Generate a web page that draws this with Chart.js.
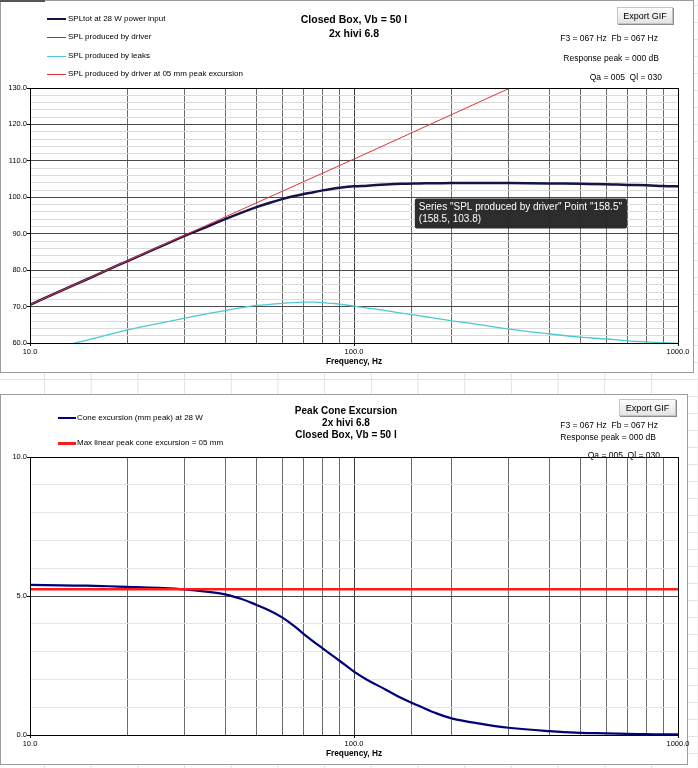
<!DOCTYPE html>
<html>
<head>
<meta charset="utf-8">
<title>Closed Box, Vb = 50 l</title>
<script src="https://cdn.jsdelivr.net/npm/chart.js@4.4.1/dist/chart.umd.min.js"></script>
<style>
    html, body {
        margin: 0;
        padding: 0;
    }
    body {
        width: 698px;
        height: 768px;
        position: relative;
        overflow: hidden;
        font-family: 'Liberation Sans', Arial, sans-serif;
        color: #000;
        background-color: #fff;
        background-image:
            linear-gradient(to right, #e2e2e2 1px, transparent 1px),
            linear-gradient(to bottom, #e2e2e2 1px, transparent 1px);
        background-size: 46.7px 100%, 100% 17px;
        background-position: 44px 0, 0 5px;
    }
    .frame {
        position: absolute;
        background: #fff;
        border: 1px solid #9c9c9c;
        box-sizing: border-box;
    }
    canvas {
        position: absolute;
    }
    .txt {
        position: absolute;
        white-space: nowrap;
        line-height: 12px;
        transform: translateY(-50%);
    }
    .legend { font-size: 8px; }
    .title { font-size: 10px; font-weight: bold; text-align: center; width: 200px; }
    .info { font-size: 8.5px; text-align: right; }
    .swatch { position: absolute; }
    .btn {
        position: absolute;
        font-size: 9px;
        line-height: 16px;
        text-align: center;
        box-sizing: border-box;
        background: linear-gradient(#fdfdfd, #e4e4e4);
        border: 1px solid #c4c4c4;
        box-shadow: 1px 1px 0 #8a8a8a;
    }
</style>
</head>
<body>

<div class="frame" style="left:0; top:0; width:694px; height:373px;"></div>
<div style="position:absolute; left:0; top:0; width:45px; height:2px; background:#555;"></div>
<div class="frame" style="left:0; top:394px; width:688px; height:371px;"></div>

<canvas id="spl-chart" width="693" height="372" style="left:0; top:0;"></canvas>
<canvas id="cone-chart" width="697" height="370" style="left:0; top:394px;"></canvas>

<!-- top chart texts -->
<div class="swatch" style="left:47px; top:18px; width:19px; height:2px; background:#14144a;"></div>
<div class="txt legend" style="left:68px; top:19px;">SPLtot at 28 W power input</div>
<div class="swatch" style="left:47px; top:37px; width:19px; height:1px; background:#555;"></div>
<div class="txt legend" style="left:68px; top:37px;">SPL produced by driver</div>
<div class="swatch" style="left:47px; top:56px; width:19px; height:1px; background:#4cc9d4;"></div>
<div class="txt legend" style="left:68px; top:56px;">SPL produced by leaks</div>
<div class="swatch" style="left:47px; top:74px; width:19px; height:1px; background:#e0333a;"></div>
<div class="txt legend" style="left:68px; top:74px;">SPL produced by driver at 05 mm peak excursion</div>

<div class="txt title" style="left:254px; top:19px; font-size:10.5px;">Closed Box, Vb = 50 l</div>
<div class="txt title" style="left:254px; top:33px; font-size:10.5px;">2x hivi 6.8</div>

<div class="btn" style="left:617px; top:7px; width:56px; height:17px;">Export GIF</div>
<div class="txt info" style="right:40px; top:38px;">F3 = 067 Hz&nbsp; Fb = 067 Hz</div>
<div class="txt info" style="right:39px; top:58px;">Response peak = 000 dB</div>
<div class="txt info" style="right:36px; top:77px;">Qa = 005&nbsp; Ql = 030</div>

<!-- bottom chart texts -->
<div class="swatch" style="left:58px; top:417px; width:18px; height:2px; background:#00007a;"></div>
<div class="txt legend" style="left:77px; top:418px;">Cone excursion (mm peak) at 28 W</div>
<div class="swatch" style="left:58px; top:442px; width:18px; height:3px; background:#ff1a1a;"></div>
<div class="txt legend" style="left:77px; top:443px;">Max linear peak cone excursion = 05 mm</div>

<div class="txt title" style="left:246px; top:411px;">Peak Cone Excursion</div>
<div class="txt title" style="left:246px; top:423px;">2x hivi 6.8</div>
<div class="txt title" style="left:246px; top:435px;">Closed Box, Vb = 50 l</div>

<div class="btn" style="left:619px; top:399px; width:57px; height:17px;">Export GIF</div>
<div class="txt info" style="right:40px; top:425px;">F3 = 067 Hz&nbsp; Fb = 067 Hz</div>
<div class="txt info" style="right:42px; top:437px;">Response peak = 000 dB</div>
<div class="txt info" style="right:38px; top:455px;">Qa = 005&nbsp; Ql = 030</div>

<script>
// frequency points, Hz
const freq = [10, 12.5, 15, 17.5, 20, 25, 30, 35, 40, 45, 50, 55, 60, 65, 70, 75, 80, 85, 90,
    100, 110, 125, 140, 158.5, 175, 200, 250, 300, 400, 500, 600, 700, 800, 900, 1000];

// SPL, dB
const splTot = [70.5, 74.4, 77.5, 80.2, 82.5, 86.3, 89.4, 91.8, 94.0, 95.8, 97.3, 98.5, 99.5, 100.3, 100.9, 101.4, 101.9, 102.3, 102.6,
    103.0, 103.2, 103.5, 103.7, 103.8, 103.85, 103.9, 103.9, 103.9, 103.8, 103.7, 103.6, 103.4, 103.3, 103.1, 103.0];
const splDriver = [70.5, 74.4, 77.5, 80.2, 82.5, 86.3, 89.4, 91.8, 94.0, 95.8, 97.3, 98.5, 99.5, 100.3, 100.9, 101.4, 101.9, 102.3, 102.6,
    103.0, 103.2, 103.5, 103.7, 103.8, 103.85, 103.9, 103.9, 103.9, 103.8, 103.7, 103.6, 103.4, 103.3, 103.1, 103.0];
const splLeaks = [57.0, 59.1, 60.8, 62.3, 63.6, 65.4, 66.8, 68.0, 68.9, 69.7, 70.3, 70.6, 70.9, 71.1, 71.2, 71.2, 71.1, 70.9, 70.7,
    70.1, 69.6, 68.9, 68.2, 67.5, 66.9, 66.1, 64.9, 63.8, 62.5, 61.6, 61.1, 60.6, 60.3, 60.1, 59.9];

// excursion-limited SPL (straight line, read at a few points)
const limitFreq = [10, 30, 100, 303];
const splLimit = [70.5, 89.6, 110.5, 130.0];

// peak cone excursion, mm
const excursion = [5.40, 5.38, 5.37, 5.35, 5.33, 5.29, 5.24, 5.16, 5.06, 4.89, 4.68, 4.47, 4.23, 3.94, 3.63, 3.36, 3.12, 2.89, 2.68,
    2.28, 1.98, 1.64, 1.33, 1.05, 0.83, 0.60, 0.39, 0.26, 0.14, 0.08, 0.06, 0.04, 0.03, 0.02, 0.02];
const xmaxFreq = [10, 1000];
const xmaxLine = [5.24, 5.24];

const font = "'Liberation Sans', Arial, sans-serif";

function points(xs, ys) {
    return xs.map((x, i) => ({ x: x, y: ys[i] }));
}

function isDecade(v) {
    const l = Math.log10(v);
    return Math.abs(l - Math.round(l)) < 1e-9;
}

const plotBorder = {
    id: 'plotBorder',
    afterDatasetsDraw(chart) {
        const a = chart.chartArea;
        const ctx = chart.ctx;
        ctx.save();
        ctx.strokeStyle = '#000';
        ctx.lineWidth = 1;
        ctx.strokeRect(Math.round(a.left) + 0.5, Math.round(a.top) + 0.5,
            Math.round(a.right - a.left), Math.round(a.bottom - a.top));
        ctx.restore();
    }
};

Chart.Tooltip.positioners.excel = function (items) {
    if (!items.length) return false;
    const el = items[0].element;
    return { x: el.x - 2, y: el.y + 15 };
};

function freqAxis() {
    return {
        type: 'logarithmic',
        min: 10,
        max: 1000,
        afterFit: scale => { scale.height = 29; },
        border: { color: '#000', width: 1 },
        grid: {
            color: ctx => ctx.tick && isDecade(ctx.tick.value) ? '#3a3a3a' : '#6c6c6c',
            tickColor: ctx => ctx.tick && isDecade(ctx.tick.value) ? '#000' : 'rgba(0,0,0,0)',
            tickLength: 3
        },
        ticks: {
            autoSkip: false,
            maxRotation: 0,
            padding: 1,
            color: '#000',
            font: { family: font, size: 7.5 },
            callback: v => isDecade(v) ? v.toFixed(1) : ''
        },
        title: {
            display: true,
            text: 'Frequency, Hz',
            color: '#000',
            font: { family: font, size: 8.3, weight: 'bold' },
            padding: { top: 0, bottom: 5 }
        }
    };
}

function valueAxis(min, max, step, major, minorColor) {
    return {
        type: 'linear',
        min: min,
        max: max,
        afterFit: scale => { scale.width = 30; },
        border: { color: '#000', width: 1 },
        grid: {
            color: ctx => ctx.tick && ctx.tick.value % major === 0 ? '#4a4a4a' : minorColor,
            tickColor: ctx => ctx.tick && ctx.tick.value % major === 0 ? '#000' : 'rgba(0,0,0,0)',
            tickLength: 3
        },
        ticks: {
            stepSize: step,
            autoSkip: false,
            padding: 0,
            color: '#000',
            font: { family: font, size: 7.5 },
            callback: v => v % major === 0 ? v.toFixed(1) : ''
        }
    };
}

const splChart = new Chart(document.getElementById('spl-chart'), {
    type: 'line',
    data: {
        datasets: [
            {
                label: 'SPLtot at 28 W power input',
                data: points(freq, splTot),
                borderColor: '#14144a',
                borderWidth: 2.5,
                order: 1
            },
            {
                label: 'SPL produced by driver',
                data: points(freq, splDriver),
                borderColor: '#555555',
                borderWidth: 1,
                order: 3
            },
            {
                label: 'SPL produced by leaks',
                data: points(freq, splLeaks),
                borderColor: '#4cc9d4',
                borderWidth: 1.3,
                order: 2
            },
            {
                label: 'SPL produced by driver at 05 mm peak excursion',
                data: points(limitFreq, splLimit),
                borderColor: '#e0333a',
                borderWidth: 1,
                tension: 0,
                order: 0
            }
        ]
    },
    options: {
        responsive: false,
        animation: false,
        events: [],
        layout: { padding: { top: 88, right: 15, left: 0, bottom: 0 } },
        elements: {
            point: { radius: 0, hoverRadius: 0 },
            line: { tension: 0.4 }
        },
        scales: {
            x: freqAxis(),
            y: valueAxis(60, 130, 2, 10, '#dadada')
        },
        plugins: {
            legend: { display: false },
            tooltip: {
                position: 'excel',
                xAlign: 'left',
                yAlign: 'top',
                animation: false,
                caretSize: 0,
                caretPadding: 0,
                cornerRadius: 2,
                backgroundColor: 'rgba(36,36,36,0.96)',
                titleColor: '#fff',
                bodyColor: '#fff',
                titleFont: { family: font, size: 10, weight: 'normal' },
                bodyFont: { family: font, size: 10 },
                titleMarginBottom: 0,
                bodySpacing: 0,
                padding: { left: 4, right: 5, top: 3, bottom: 3 },
                displayColors: false,
                callbacks: {
                    title: items => `Series "${items[0].dataset.label}" Point "${items[0].parsed.x}"`,
                    label: item => `(${item.parsed.x}, ${item.parsed.y})`
                }
            }
        }
    },
    plugins: [plotBorder]
});

const coneChart = new Chart(document.getElementById('cone-chart'), {
    type: 'line',
    data: {
        datasets: [
            {
                label: 'Cone excursion (mm peak) at 28 W',
                data: points(freq, excursion),
                borderColor: '#00007a',
                borderWidth: 2.2,
                order: 1
            },
            {
                label: 'Max linear peak cone excursion = 05 mm',
                data: points(xmaxFreq, xmaxLine),
                borderColor: '#ff1a1a',
                borderWidth: 2.5,
                tension: 0,
                order: 0
            }
        ]
    },
    options: {
        responsive: false,
        animation: false,
        events: [],
        layout: { padding: { top: 63, right: 19, left: 0, bottom: 0 } },
        elements: {
            point: { radius: 0, hoverRadius: 0 },
            line: { tension: 0.4 }
        },
        scales: {
            x: freqAxis(),
            y: valueAxis(0, 10, 1, 5, '#e6e6e6')
        },
        plugins: {
            legend: { display: false },
            tooltip: { enabled: false }
        }
    },
    plugins: [plotBorder]
});

// hover tooltip shown in the screenshot
const hoverIndex = freq.indexOf(158.5);
splChart.tooltip.setActiveElements([{ datasetIndex: 1, index: hoverIndex }], { x: 0, y: 0 });
splChart.update('none');
</script>
</body>
</html>
